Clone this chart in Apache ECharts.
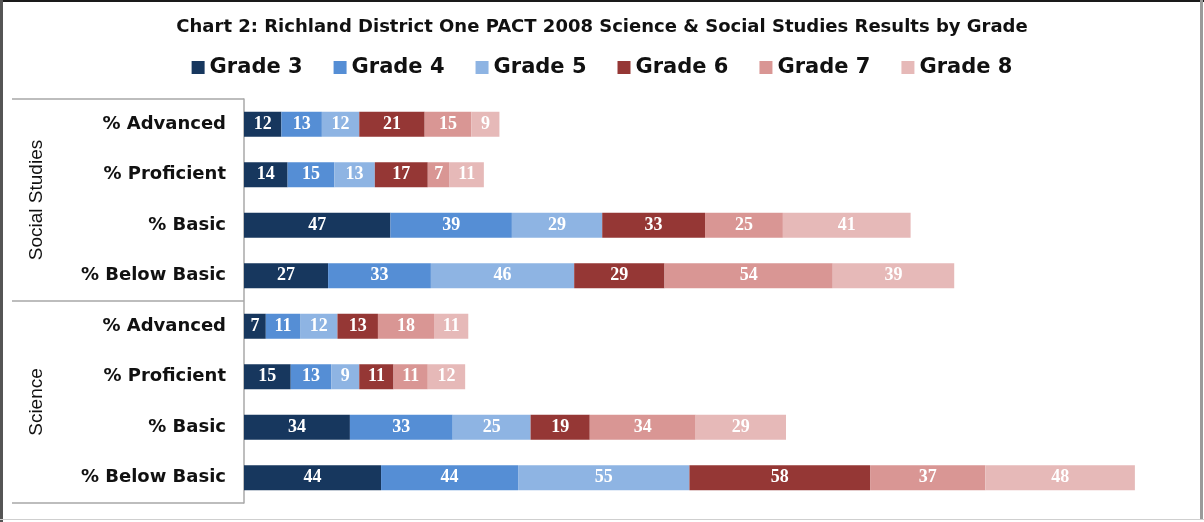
<!DOCTYPE html>
<html>
<head>
<meta charset="utf-8">
<script src="https://cdn.jsdelivr.net/npm/echarts@6/dist/echarts.min.js"></script>
<style>
  html, body { margin: 0; padding: 0; background: #fff; }
  #chart { width: 1204px; height: 522px; }
</style>
</head>
<body>
<div id="chart"></div>
<script>
const subjects = ["Social Studies", "Science"];
const rows = [
  "% Advanced", "% Proficient", "% Basic", "% Below Basic",
  "% Advanced", "% Proficient", "% Basic", "% Below Basic"
];
const grades = ["Grade 3", "Grade 4", "Grade 5", "Grade 6", "Grade 7", "Grade 8"];
const colors = ["#17375E", "#558ED5", "#8EB4E3", "#953735", "#D99694", "#E6B9B8"];

// rows: SS adv, prof, basic, below basic, then Science in the same order
const grade3 = [12, 14, 47, 27, 7, 15, 34, 44];
const grade4 = [13, 15, 39, 33, 11, 13, 33, 44];
const grade5 = [12, 13, 29, 46, 12, 9, 25, 55];
const grade6 = [21, 17, 33, 29, 13, 11, 19, 58];
const grade7 = [15, 7, 25, 54, 18, 11, 34, 37];
const grade8 = [9, 11, 41, 39, 11, 12, 29, 48];
const values = [grade3, grade4, grade5, grade6, grade7, grade8];

// row labels repeat, so keep the category keys unique
const rowIds = rows.map((r, i) => i + "|" + r);

const chart = echarts.init(document.getElementById("chart"));

const option = {
  animation: false,
  title: {
    text: "Chart 2: Richland District One PACT 2008 Science & Social Studies Results by Grade",
    left: "center",
    top: 13,
    textStyle: {
      fontFamily: "DejaVu Sans",
      fontWeight: "bold",
      fontSize: 18,
      color: "#111"
    }
  },
  legend: {
    top: 52,
    left: "center",
    icon: "rect",
    itemWidth: 13,
    itemHeight: 13,
    itemGap: 31,
    textStyle: {
      fontFamily: "DejaVu Sans",
      fontWeight: "bold",
      fontSize: 21,
      color: "#111"
    },
    data: grades
  },
  grid: {
    left: 244,
    right: 25.5,
    top: 99,
    bottom: 19
  },
  xAxis: {
    type: "value",
    min: 0,
    max: 300,
    show: false
  },
  yAxis: [
    {
      type: "category",
      inverse: true,
      data: rowIds,
      axisLine: { show: true, lineStyle: { color: "#a8a8a8", width: 1.5 } },
      axisTick: { show: false },
      axisLabel: {
        margin: 18,
        fontFamily: "DejaVu Sans",
        fontWeight: "bold",
        fontSize: 18,
        color: "#111",
        formatter: (v) => v.split("|")[1]
      }
    },
    {
      type: "category",
      inverse: true,
      position: "left",
      data: subjects,
      axisLine: { show: false },
      axisTick: { show: true, length: 232, lineStyle: { color: "#a8a8a8", width: 1.5 } },
      axisLabel: {
        rotate: 90,
        margin: 198,
        fontFamily: "Liberation Sans",
        fontSize: 19,
        color: "#111"
      }
    }
  ],
  series: grades.map((g, i) => ({
    name: g,
    type: "bar",
    stack: "total",
    barWidth: 25,
    yAxisIndex: 0,
    itemStyle: { color: colors[i] },
    label: {
      show: true,
      position: "inside",
      color: "#fff",
      fontFamily: "Liberation Serif",
      fontWeight: "bold",
      fontSize: 18
    },
    data: values[i]
  })),
  graphic: [
    { type: "line", shape: { x1: 0, y1: 1, x2: 1204, y2: 1 }, style: { stroke: "#1a1a1a", lineWidth: 2 } },
    { type: "line", shape: { x1: 1.5, y1: 0, x2: 1.5, y2: 522 }, style: { stroke: "#555", lineWidth: 3 } },
    { type: "line", shape: { x1: 1201.5, y1: 0, x2: 1201.5, y2: 520 }, style: { stroke: "#9a9a9a", lineWidth: 3 } },
    { type: "line", shape: { x1: 0, y1: 519.5, x2: 1204, y2: 519.5 }, style: { stroke: "#cfcfcf", lineWidth: 1 } }
  ]
};

chart.setOption(option);
</script>
</body>
</html>
